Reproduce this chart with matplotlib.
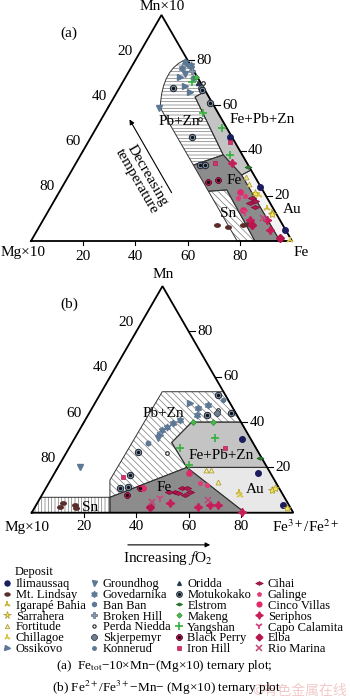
import numpy as np
import matplotlib
matplotlib.use('Agg')
import matplotlib.pyplot as plt
from matplotlib.path import Path
from matplotlib.patches import PathPatch
from matplotlib.lines import Line2D

plt.rcParams['font.family'] = ['Liberation Serif', 'DejaVu Serif']
plt.rcParams['mathtext.fontset'] = 'stix'
plt.rcParams['hatch.linewidth'] = 0.5

# ---------------- data (ternary percentages: Fe, Mn; Mg = rest) ----------------
deposits = ["Ilimaussaq", "Mt. Lindsay", "Igarapé Bahia", "Sarrahera", "Fortitude", "Chillagoe", "Ossikovo",
            "Groundhog", "Govedarnika", "Ban Ban", "Broken Hill", "Perda Niedda", "Skjerpemyr", "Konnerud",
            "Oridda", "Motukokako", "Elstrom", "Makeng", "Yangshan", "Black Perry", "Iron Hill",
            "Cihai", "Galinge", "Cinco Villas", "Seriphos", "Capo Calamita", "Elba", "Rio Marina"]

# panel (a): Fe_tot - 10xMn - (Mg x10)
pts_a = [
    ("Ilimaussaq", 53.2, 46.0), ("Ilimaussaq", 75.7, 24.0), ("Ilimaussaq", 94.9, 4.9),
    ("Mt. Lindsay", 67.6, 7.1), ("Mt. Lindsay", 72.4, 6.3), ("Mt. Lindsay", 77.8, 7.1), ("Mt. Lindsay", 79.5, 7.5),
    ("Igarapé Bahia", 83.1, 14.5), ("Igarapé Bahia", 85.7, 13.0),
    ("Sarrahera", 75.3, 21.1), ("Sarrahera", 86.5, 12.0),
    ("Fortitude", 68.3, 28.5), ("Fortitude", 71.0, 25.0),
    ("Chillagoe", 99.0, 0.5), ("Chillagoe", 77.0, 20.5),
    ("Ossikovo", 20.8, 72.6), ("Ossikovo", 24.7, 68.6), ("Ossikovo", 28.0, 65.9),
    ("Groundhog", 19.6, 58.8), ("Groundhog", 22.0, 74.0),
    ("Govedarnika", 19.4, 79.2), ("Govedarnika", 22.3, 77.9), ("Govedarnika", 19.6, 76.5),
    ("Ban Ban", 23.0, 76.8), ("Ban Ban", 26.0, 72.0),
    ("Broken Hill", 24.0, 75.0),
    ("Perda Niedda", 37.8, 54.0), ("Perda Niedda", 31.0, 70.0),
    ("Skjerpemyr", 31.5, 67.5),
    ("Konnerud", 21.0, 78.0),
    ("Oridda", 29.0, 70.0),
    ("Motukokako", 20.6, 67.7), ("Motukokako", 32.1, 66.8), ("Motukokako", 38.7, 46.0),
    ("Motukokako", 38.1, 61.1), ("Motukokako", 47.9, 33.6), ("Motukokako", 49.9, 33.6),
    ("Elstrom", 66.8, 32.7),
    ("Makeng", 27.0, 72.5),
    ("Yangshan", 26.3, 70.5), ("Yangshan", 37.6, 56.6), ("Yangshan", 48.1, 49.9), ("Yangshan", 57.2, 38.1),
    ("Black Perry", 54.8, 26.2), ("Black Perry", 58.3, 27.0),
    ("Iron Hill", 54.3, 43.9), ("Iron Hill", 53.3, 34.4),
    ("Cihai", 75.1, 18.9), ("Cihai", 75.5, 16.8), ("Cihai", 78.2, 15.2), ("Cihai", 77.0, 17.5),
    ("Galinge", 69.9, 18.9), ("Galinge", 72.0, 20.0),
    ("Cinco Villas", 69.2, 21.8), ("Cinco Villas", 74.5, 13.7),
    ("Seriphos", 59.7, 34.4), ("Seriphos", 79.3, 9.3), ("Seriphos", 85.7, 9.3), ("Seriphos", 89.1, 4.9),
    ("Capo Calamita", 75.5, 13.0),
    ("Elba", 81.0, 7.1), ("Elba", 94.8, 1.2),
    ("Rio Marina", 83.8, 10.2),
]

# panel (b): Fe3+/Fe2+ - Mn - (Mg x10)
pts_b = [
    ("Ilimaussaq", 64.1, 32.4), ("Ilimaussaq", 77.9, 17.4), ("Ilimaussaq", 94.5, 3.4),
    ("Mt. Lindsay", 9.5, 2.6), ("Mt. Lindsay", 10.0, 4.1), ("Mt. Lindsay", 14.9, 3.4), ("Mt. Lindsay", 16.0, 1.9),
    ("Igarapé Bahia", 74.7, 9.3),
    ("Sarrahera", 86.7, 10.0), ("Sarrahera", 87.6, 10.8), ("Sarrahera", 96.5, 1.9),
    ("Fortitude", 57.2, 18.8), ("Fortitude", 59.1, 18.8), ("Fortitude", 64.5, 13.7),
    ("Chillagoe", 75.5, 8.0),
    ("Ossikovo", 36.4, 48.3), ("Ossikovo", 31.9, 34.3),
    ("Groundhog", 8.5, 20.0), ("Groundhog", 32.0, 32.8),
    ("Govedarnika", 43.8, 47.4), ("Govedarnika", 40.6, 46.1), ("Govedarnika", 41.5, 43.1),
    ("Govedarnika", 36.3, 40.9), ("Govedarnika", 34.4, 39.4), ("Govedarnika", 32.7, 37.9),
    ("Govedarnika", 31.5, 36.5),
    ("Ban Ban", 29.3, 30.6),
    ("Perda Niedda", 38.5, 26.2), ("Perda Niedda", 48.7, 45.3),
    ("Skjerpemyr", 48.8, 43.8),
    ("Motukokako", 45.4, 51.9), ("Motukokako", 45.3, 43.1), ("Motukokako", 54.2, 43.8),
    ("Motukokako", 27.3, 26.9), ("Motukokako", 29.3, 16.6), ("Motukokako", 28.4, 10.8),
    ("Motukokako", 31.2, 11.5),
    ("Konnerud", 48.4, 49.7),
    ("Makeng", 41.7, 40.1), ("Makeng", 49.3, 40.1),
    ("Yangshan", 53.7, 32.8), ("Yangshan", 42.5, 28.4), ("Yangshan", 49.7, 21.0),
    ("Elstrom", 75.3, 24.0),
    ("Iron Hill", 59.7, 28.4), ("Iron Hill", 27.1, 15.9),
    ("Black Perry", 36.0, 10.8), ("Black Perry", 32.4, 7.8),
    ("Cihai", 50.2, 9.3), ("Cihai", 51.9, 10.8), ("Cihai", 53.9, 10.8), ("Cihai", 55.9, 9.3),
    ("Cihai", 54.7, 7.8), ("Cihai", 51.7, 8.6), ("Cihai", 47.8, 9.3),
    ("Galinge", 58.0, 13.0), ("Galinge", 60.8, 12.2),
    ("Cinco Villas", 51.4, 17.6), ("Cinco Villas", 37.0, 11.0),
    ("Seriphos", 62.4, 2.6), ("Seriphos", 66.5, 3.4), ("Seriphos", 69.6, 3.4),
    ("Seriphos", 80.1, 0.4), ("Seriphos", 50.8, 4.1),
    ("Capo Calamita", 45.8, 6.4),
    ("Elba", 43.9, 2.6),
    ("Rio Marina", 43.5, 4.6), ("Rio Marina", 64.7, 5.6),
]

# field boundaries (Fe, Mn)
pbzn_a = [(19.5, 80.5), (11.9, 76.5), (20.0, 59.0), (45.4, 33.6), (54.6, 38.1), (31.0, 63.7), (33.7, 66.3)]
fepbzn_a = [(31.0, 63.7), (33.7, 66.3), (68.6, 31.4), (66.1, 29.2), (54.6, 38.1)]
fe_a = [(45.4, 33.6), (54.6, 38.1), (66.1, 29.2), (95.4, 0), (85.8, 0), (63.7, 22.6), (57.0, 22.0)]
sn_a = [(57.0, 22.0), (63.7, 22.6), (85.8, 0), (79.0, 0)]
au_a = [(66.1, 29.2), (68.6, 31.4), (100, 0), (95.4, 0)]

pbzn_b = [(23.2, 53.4), (46.6, 53.4), (60, 40), (41.2, 40), (38, 31), (49.3, 20), (26.5, 6.8), (22.7, 14.4)]
fepbzn_b = [(41.2, 40), (60, 40), (80, 20), (49.3, 20), (38, 31)]
au_b = [(49.3, 20), (80, 20), (100, 0), (81.5, 0)]
fe_b = [(26.5, 6.8), (49.3, 20), (81.5, 0), (29.9, 0)]
sn_b = [(0, 6.8), (26.5, 6.8), (29.9, 0), (0, 0)]

ticks = [20, 40, 60, 80]

# ---------------- styles ----------------
steel = '#5d7894'
lozenge = Path([(-1, 0), (0, 0.5), (1, 0), (0, -0.5), (-1, 0)],
               [Path.MOVETO, Path.LINETO, Path.LINETO, Path.LINETO, Path.CLOSEPOLY])
oval = Path.unit_circle().transformed(matplotlib.transforms.Affine2D().scale(1.0, 0.6))
style = {
    "Ilimaussaq": dict(marker='o', mfc='#1b1d5e', mec='#1b1d5e', ms=4.0),
    "Mt. Lindsay": dict(marker=oval, mfc='#5a2d2b', mec='#5a2d2b', ms=4.0),
    "Igarapé Bahia": dict(marker='2', mec='#c9b43c', ms=5, mew=1.4),
    "Sarrahera": dict(marker='*', mfc='#f3e55a', mec='#a8962a', ms=6, mew=0.5),
    "Fortitude": dict(marker='^', mfc='#f6ee9c', mec='#b0a040', ms=3.5, mew=0.6),
    "Chillagoe": dict(marker='2', mec='#d8c64a', ms=5, mew=1.4),
    "Ossikovo": dict(marker='>', mfc=steel, mec=steel, ms=4.0),
    "Groundhog": dict(marker='v', mfc=steel, mec=steel, ms=4.0),
    "Govedarnika": dict(marker=(6, 1, 0), mfc=steel, mec=steel, ms=5),
    "Ban Ban": dict(marker='h', mfc=steel, mec=steel, ms=3.5),
    "Broken Hill": dict(marker='P', mfc='#8a98ac', mec='#5d6e84', ms=4.5, mew=0.5),
    "Perda Niedda": dict(marker='o', mfc='white', mec='#222222', ms=2.6, mew=0.8),
    "Skjerpemyr": dict(marker='8', mfc='#6f7f90', mec='#3b4756', ms=4.5, mew=0.6),
    "Konnerud": dict(marker='o', mfc=steel, mec=steel, ms=2.8),
    "Oridda": dict(marker='^', mfc='#263850', mec='#263850', ms=3.0),
    "Motukokako": dict(marker='o', mfc='#7d93ab', mec='#1e2430', ms=4.6, mew=0.7, dot=True),
    "Elstrom": dict(marker=lozenge, mfc='#2e7d32', mec='#1b5e20', ms=5, mew=0.5),
    "Makeng": dict(marker='D', mfc='#4cbb4c', mec='#2e8b2e', ms=3.0, mew=0.5),
    "Yangshan": dict(marker='+', mec='#36b03c', ms=6, mew=1.2),
    "Black Perry": dict(marker='8', mfc='#c2185b', mec='#5e0b2b', ms=5, mew=0.6, dot=True),
    "Iron Hill": dict(marker='s', mfc='#d6336c', mec='#b01f55', ms=3.4, mew=0.5),
    "Cihai": dict(marker=lozenge, mfc='#b3164f', mec='#7f0e37', ms=6, mew=0.5),
    "Galinge": dict(marker='p', mfc='#e23a78', mec='#e23a78', ms=3.0),
    "Cinco Villas": dict(marker='o', mfc='#e0286a', mec='#e0286a', ms=3.8),
    "Seriphos": dict(marker=(4, 1, 0), mfc='#c81d5a', mec='#c81d5a', ms=6),
    "Capo Calamita": dict(marker='1', mec='#d0457f', ms=5.5, mew=1.3),
    "Elba": dict(marker='D', mfc='#b8154f', mec='#b8154f', ms=3.8),
    "Rio Marina": dict(marker='x', mec='#c2457a', ms=4.2, mew=1.1),
}

R3 = np.sqrt(3) / 2


def tern(fe, mn):
    fe = np.asarray(fe, float)
    mn = np.asarray(mn, float)
    return fe + mn / 2, mn * R3


def field(ax, verts, fc, hatch=None, hc='#7a7a7a', codes=None):
    fe, mn = np.array(verts, float).T
    x, y = tern(fe, mn)
    xy = np.column_stack([x, y])
    xy = np.vstack([xy, xy[:1]])
    if codes is None:
        codes = [Path.MOVETO] + [Path.LINETO] * (len(verts) - 1)
    path = Path(xy, list(codes) + [Path.CLOSEPOLY])
    ax.add_patch(PathPatch(path, facecolor=fc, edgecolor=hc if hatch else 'none',
                           hatch=hatch, lw=0, zorder=1))
    ax.add_patch(PathPatch(path, facecolor='none', edgecolor='#333333', lw=0.7, zorder=2))


def frame(ax, bottom_off):
    x, y = tern([0, 100, 0, 0], [0, 0, 100, 0])
    ax.plot(x, y, color='k', lw=1.3, zorder=3, solid_joinstyle='miter')
    for t in ticks:
        # bottom (Fe)
        ax.plot([t, t], [0, -1.6], color='k', lw=0.8)
        ax.text(t, -bottom_off, str(t), ha='center', va='center', fontsize=11)
        # right edge (Mn)
        xr, yr = tern(100 - t, t)
        ax.plot([xr, xr + 2.4], [yr, yr], color='k', lw=0.8)
        ax.text(xr + 3.2, yr, str(t), ha='left', va='center', fontsize=11)
        # left edge (Mg)
        xl, yl = tern(0, 100 - t)
        ax.plot([xl, xl - 0.7], [yl, yl - 1.2], color='k', lw=0.8)
        ax.text(xl - 1.0, yl + 3.4, str(t), ha='right', va='center', fontsize=11)


def points(ax, pts):
    for name in deposits:
        sel = [(f, m) for d, f, m in pts if d == name]
        if not sel:
            continue
        fe, mn = zip(*sel)
        x, y = tern(fe, mn)
        st = dict(style[name])
        dot = st.pop('dot', False)
        ax.plot(x, y, ls='none', zorder=5, **st)
        if dot:
            ax.plot(x, y, ls='none', marker='o', ms=1.4, color='#111111', zorder=6)


fig = plt.figure(figsize=(3.5, 6.99), dpi=100)
H = 699.0

# panel (a): triangle base from px 31 to 292, base at py 241
ax_a = fig.add_axes([0, 1 - 262 / H, 1, 262 / H])
ax_a.set_xlim(-31 / 2.61, (350 - 31) / 2.61)
ax_a.set_ylim((241 - 262) / 2.61, 241 / 2.61)
ax_a.axis('off')

field(ax_a, pbzn_a, 'white', hatch='-----',
      codes=[Path.MOVETO, Path.CURVE3, Path.CURVE3] + [Path.LINETO] * 4)
field(ax_a, fepbzn_a, '#c4c4c4')
field(ax_a, fe_a, '#8c8c8c')
field(ax_a, sn_a, 'white', hatch='\\\\\\\\\\')
field(ax_a, au_a, '#f4f4f4')
frame(ax_a, 6.0)
points(ax_a, pts_a)

ax_a.text(14.6, 79.7, '(a)', fontsize=11, ha='center', va='center')
ax_a.text(50.2, 89.8, 'Mn×10', fontsize=11, ha='center', va='center')
ax_a.text(-3.1, -4.4, 'Mg×10', fontsize=11, ha='center', va='center')
ax_a.text(103.4, -4.4, 'Fe', fontsize=11, ha='center', va='center')
ax_a.text(56.7, 45.6, 'Pb+Zn', fontsize=11, ha='center', va='center', zorder=7)
ax_a.text(88.5, 46.4, 'Fe+Pb+Zn', fontsize=11, ha='center', va='center', zorder=7)
ax_a.text(77.8, 23.0, 'Fe', fontsize=11, ha='center', va='center', zorder=7)
ax_a.text(75.5, 10.7, 'Sn', fontsize=11, ha='center', va='center', zorder=7)
ax_a.text(100.0, 11.9, 'Au', fontsize=11, ha='center', va='center', zorder=7)
ax_a.text(42.5, 24.1, 'Decreasing\ntemperature', fontsize=11, rotation=-60,
          ha='center', va='center', linespacing=0.95, rotation_mode='anchor')
ax_a.annotate('', xy=(37.2, 47.5), xytext=(54.4, 17.6),
              arrowprops=dict(arrowstyle='-|>', color='k', lw=0.8, mutation_scale=7))

# panel (b): triangle base from px 31.7 to 293.3, base at py 512.7
ax_b = fig.add_axes([0, 1 - 562 / H, 1, 300 / H])
ax_b.set_xlim(-31.7 / 2.616, (350 - 31.7) / 2.616)
ax_b.set_ylim((512.7 - 562) / 2.616, (512.7 - 262) / 2.616)
ax_b.axis('off')

field(ax_b, pbzn_b, 'white', hatch='\\\\\\\\\\')
field(ax_b, fepbzn_b, '#c4c4c4')
field(ax_b, au_b, '#e8e8e8')
field(ax_b, fe_b, '#8c8c8c')
field(ax_b, sn_b, 'white', hatch='|||||')
frame(ax_b, 5.2)
points(ax_b, pts_b)

ax_b.text(14.3, 79.8, '(b)', fontsize=11, ha='center', va='center')
ax_b.text(50.2, 91.2, 'Mn', fontsize=11, ha='center', va='center')
ax_b.text(-1.6, -5.7, 'Mg×10', fontsize=11, ha='center', va='center')
ax_b.text(104.7, -5.5, 'Fe$^{3+}$/Fe$^{2+}$', fontsize=11, ha='center', va='center')
ax_b.text(50.3, 38.0, 'Pb+Zn', fontsize=11, ha='center', va='center', zorder=7)
ax_b.text(72.6, 21.7, 'Fe+Pb+Zn', fontsize=11, ha='center', va='center', zorder=7)
ax_b.text(50.6, 9.6, 'Fe', fontsize=11, ha='center', va='center', zorder=7)
ax_b.text(85.4, 8.9, 'Au', fontsize=11, ha='center', va='center', zorder=7)
ax_b.text(22.3, 2.1, 'Sn', fontsize=11, ha='center', va='center', zorder=7)
ax_b.annotate('', xy=(69.3, -12.3), xytext=(35.7, -12.3),
              arrowprops=dict(arrowstyle='-|>', color='k', lw=0.8, mutation_scale=7))
ax_b.text(52.1, -17.3, 'Increasing $f$O$_2$', fontsize=11, ha='center', va='center')

# legend
handles = []
for name in deposits:
    st = dict(style[name])
    dot = st.pop('dot', False)
    h = Line2D([], [], ls='none', **st)
    if dot:
        h = (h, Line2D([], [], ls='none', marker='o', ms=1.4, color='#111111'))
    handles.append(h)

fig.text(15 / 350, 1 - 572 / H, 'Deposit', ha='left', va='center', fontsize=9)
leg = fig.legend(handles, deposits, ncol=4, loc='upper left', bbox_to_anchor=(0.01, 1 - 578 / H),
                 frameon=False, fontsize=9,
                 handlelength=0.6, handletextpad=0.4, columnspacing=0.35, labelspacing=-0.09,
                 borderpad=0, borderaxespad=0, markerscale=0.9)

fig.text(0.471, 1 - 666 / H, '(a)  Fe$_{\\rm tot}$−10×Mn−(Mg×10) ternary plot;',
         ha='center', va='center', fontsize=9.5)
fig.text(0.477, 1 - 688 / H, '(b) Fe$^{2+}$/Fe$^{3+}$−Mn− (Mg×10) ternary plot',
         ha='center', va='center', fontsize=9.5)
fig.text(0.855, 1 - 691 / H, '©有色金属在线', color='#f3caca', fontsize=10,
         family=['Noto Sans CJK SC', 'DejaVu Sans'], ha='center', va='center', zorder=0)

fig.savefig('out.png', dpi=100)
